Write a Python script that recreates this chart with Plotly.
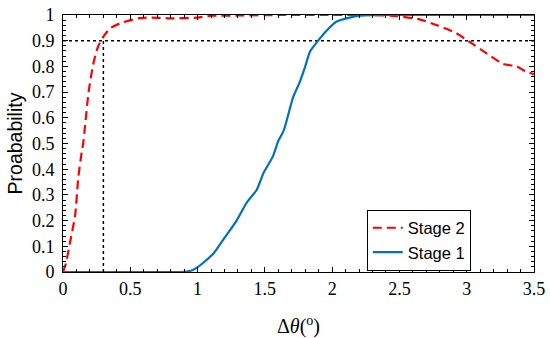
import plotly.graph_objects as go

# Stage 2 (red dashed)
stage2_x = [0.0, 0.02, 0.05, 0.09, 0.114, 0.14, 0.15, 0.19, 0.225, 0.26, 0.30, 0.35, 0.436, 0.56, 0.66,
            0.8, 1.0, 1.1, 1.3, 1.6, 2.0, 2.3, 2.48, 2.65, 2.78, 2.92, 3.02, 3.15, 3.27, 3.37, 3.44, 3.5]
stage2_y = [0.0, 0.03, 0.11, 0.22, 0.37, 0.47, 0.50, 0.70, 0.81, 0.877, 0.916, 0.948, 0.97, 0.987, 0.99,
            0.987, 0.99, 0.997, 0.998, 1.0, 1.0, 1.0, 0.996, 0.983, 0.96, 0.93, 0.896, 0.85, 0.81, 0.80, 0.78, 0.77]

# Stage 1 (blue solid)
stage1_x = [0.0, 0.5, 0.87, 0.95, 0.99, 1.04, 1.12, 1.19, 1.29, 1.365, 1.44, 1.49, 1.56, 1.6, 1.64,
            1.71, 1.76, 1.80, 1.835, 1.90, 1.96, 2.03, 2.13, 2.2, 2.4, 2.8, 3.2, 3.5]
stage1_y = [0.0, 0.0, 0.0, 0.005, 0.015, 0.035, 0.073, 0.125, 0.2, 0.27, 0.32, 0.385, 0.45, 0.51, 0.55,
            0.68, 0.74, 0.80, 0.857, 0.903, 0.94, 0.974, 0.99, 0.997, 1.0, 1.0, 1.0, 1.0]

# Reference markers
threshold_y = 0.9
threshold_x = 0.3

x_ticks = [0, 0.5, 1, 1.5, 2, 2.5, 3, 3.5]
x_ticktext = ["0", "0.5", "1", "1.5", "2", "2.5", "3", "3.5"]
y_ticks = [0, 0.1, 0.2, 0.3, 0.4, 0.5, 0.6, 0.7, 0.8, 0.9, 1.0]
y_ticktext = ["0", "0.1", "0.2", "0.3", "0.4", "0.5", "0.6", "0.7", "0.8", "0.9", "1"]

fig = go.Figure()
fig.add_trace(go.Scatter(x=[0, 3.5], y=[threshold_y, threshold_y], mode="lines",
                         line=dict(color="black", width=1.5, dash="dot"), showlegend=False))
fig.add_trace(go.Scatter(x=[threshold_x, threshold_x], y=[0, threshold_y], mode="lines",
                         line=dict(color="black", width=1.5, dash="dot"), showlegend=False))
fig.add_trace(go.Scatter(x=stage2_x, y=stage2_y, mode="lines", name="Stage 2",
                         line=dict(color="#FF0000", width=2.2, dash="9px,5px", shape="spline", smoothing=0.6)))
fig.add_trace(go.Scatter(x=stage1_x, y=stage1_y, mode="lines", name="Stage 1",
                         line=dict(color="#0072BD", width=2.2, shape="spline", smoothing=0.5)))

axis_common = dict(showline=True, linecolor="black", linewidth=1, mirror="ticks",
                   ticks="inside", ticklen=5, tickcolor="black", showgrid=False, zeroline=False,
                   automargin=False, ticklabeloverflow="allow",
                   tickfont=dict(family="Liberation Serif", size=18, color="black"))

fig.update_xaxes(range=[0, 3.5], tickvals=x_ticks, ticktext=x_ticktext,
                 minor=dict(dtick=0.1, ticks="inside", ticklen=3, tickcolor="black"),
                 title=dict(text="Δ<i>θ</i>(<sup>o</sup>)", font=dict(family="Liberation Serif", size=20, color="black"),
                            standoff=23),
                 **axis_common)
fig.update_yaxes(range=[0, 1], tickvals=y_ticks, ticktext=y_ticktext,
                 minor=dict(dtick=0.02, ticks="inside", ticklen=3, tickcolor="black"),
                 ticklabelstandoff=4,
                 title=dict(text="Proabability", font=dict(family="Liberation Sans", size=19.5, color="black"),
                            standoff=4),
                 **axis_common)

fig.update_layout(width=550, height=338, margin=dict(l=63, r=16, t=15, b=66),
                  plot_bgcolor="white", paper_bgcolor="white",
                  legend=dict(x=0.645, y=0.243, xanchor="left", yanchor="top",
                              bordercolor="black", borderwidth=1, bgcolor="white",
                              font=dict(family="Liberation Sans", size=16.5, color="black"),
                              tracegroupgap=0, itemwidth=30))

fig.write_html("out.html", config={"displayModeBar": False},
               post_script="document.body.style.margin='0';document.body.style.overflow='hidden';")
